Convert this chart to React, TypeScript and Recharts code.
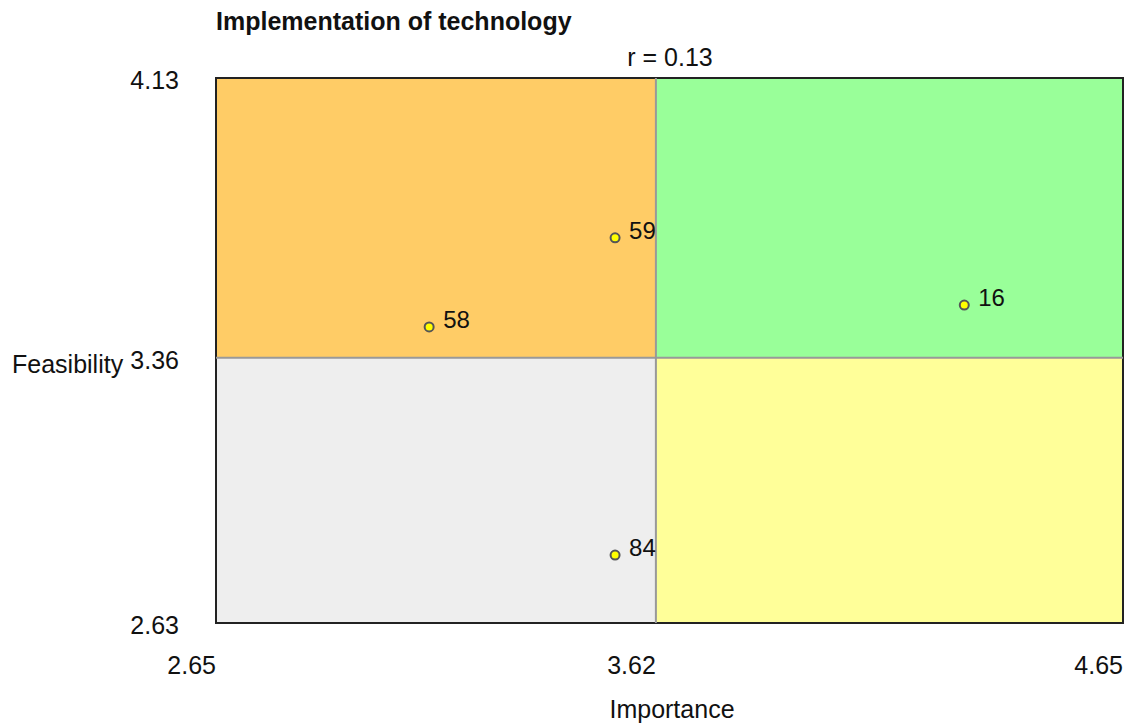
import React from 'react';
import { ScatterChart, Scatter, XAxis, YAxis, ReferenceArea, ReferenceLine } from 'recharts';

// item ids and their scores
const ids = ['59', '58', '16', '84'];
const importance = [3.53, 3.12, 4.3, 3.53];
const feasibility = [3.69, 3.445, 3.505, 2.817];

// axis ticks (min, split, max)
const xTicks = [2.65, 3.62, 4.65];
const yTicks = [2.63, 3.36, 4.13];

const title = 'Implementation of technology';
const subtitle = 'r = 0.13';

const FONT = '"Liberation Sans", Arial, sans-serif';
const FS = 25;

const points = ids.map((id, i) => ({ id, x: importance[i], y: feasibility[i] }));

const XTick = (props: any) => {
  const { x, y, payload } = props;
  return (
    <text x={x} y={y} dy={51} textAnchor="end" fontSize={FS} fill="#111" fontFamily={FONT}>
      {payload.value.toFixed(2)}
    </text>
  );
};

const YTick = (props: any) => {
  const { x, y, payload } = props;
  return (
    <text x={x - 37} y={y} dy={11} textAnchor="end" fontSize={FS} fill="#111" fontFamily={FONT}>
      {payload.value.toFixed(2)}
    </text>
  );
};

const Dot = (props: any) => {
  const { cx, cy, payload } = props;
  return (
    <g>
      <circle cx={cx} cy={cy} r={4.5} fill="#FFFF00" stroke="#555" strokeWidth={2} />
      <text x={cx + 14} y={cy + 1} fontSize={24} fill="#111" fontFamily={FONT}>
        {payload.id}
      </text>
    </g>
  );
};

export default function App() {
  const [xMin, xMid, xMax] = xTicks;
  const [yMin, yMid, yMax] = yTicks;
  return (
    <div style={{ position: 'relative', width: 1125, height: 718, fontFamily: FONT, color: '#111' }}>
      <div style={{ position: 'absolute', left: 208, top: 1, fontSize: FS, lineHeight: '25px', fontWeight: 'bold', whiteSpace: 'nowrap' }}>
        {title}
      </div>
      <div style={{ position: 'absolute', left: 662, top: 37, transform: 'translateX(-50%)', fontSize: FS, lineHeight: '25px', whiteSpace: 'nowrap' }}>
        {subtitle}
      </div>
      <div style={{ position: 'absolute', left: 4, top: 344, fontSize: FS, lineHeight: '25px' }}>Feasibility</div>
      <div style={{ position: 'absolute', left: 664, top: 689, transform: 'translateX(-50%)', fontSize: FS, lineHeight: '25px' }}>
        Importance
      </div>
      <div style={{ position: 'absolute', left: 0, top: 0 }}>
        <ScatterChart width={1125} height={718} margin={{ top: 70, right: 10, left: 138, bottom: 43 }}>
          <XAxis
            type="number"
            dataKey="x"
            domain={[xMin, xMax]}
            ticks={xTicks}
            height={60}
            axisLine={false}
            tickLine={false}
            tickSize={0}
            tickMargin={0}
            tick={<XTick />}
            interval={0}
          />
          <YAxis
            type="number"
            dataKey="y"
            domain={[yMin, yMax]}
            ticks={yTicks}
            width={70}
            axisLine={false}
            tickLine={false}
            tickSize={0}
            tickMargin={0}
            tick={<YTick />}
            interval={0}
          />
          <ReferenceArea x1={xMin} x2={xMid} y1={yMid} y2={yMax} fill="#FFCC66" fillOpacity={1} />
          <ReferenceArea x1={xMid} x2={xMax} y1={yMid} y2={yMax} fill="#99FF99" fillOpacity={1} />
          <ReferenceArea x1={xMin} x2={xMid} y1={yMin} y2={yMid} fill="#EEEEEE" fillOpacity={1} />
          <ReferenceArea x1={xMid} x2={xMax} y1={yMin} y2={yMid} fill="#FFFF99" fillOpacity={1} />
          <ReferenceLine x={xMid} stroke="#999" strokeWidth={2} />
          <ReferenceLine y={yMid} stroke="#999" strokeWidth={2} />
          <ReferenceArea x1={xMin} x2={xMax} y1={yMin} y2={yMax} fill="none" stroke="#222" strokeWidth={2} />
          <Scatter data={points} shape={<Dot />} isAnimationActive={false} />
        </ScatterChart>
      </div>
    </div>
  );
}
